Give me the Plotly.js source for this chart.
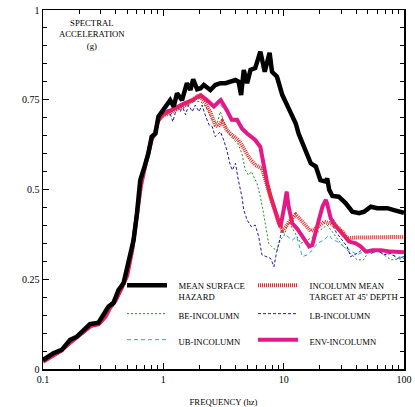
<!DOCTYPE html>
<html>
<head>
<meta charset="utf-8">
<script src="https://cdn.plot.ly/plotly-3.0.1.min.js"></script>
<style>html,body{margin:0;padding:0;background:#fff;}#chart{width:415px;height:407px;}</style>
</head>
<body>
<div id="chart"></div>
<script>
// ---- data (frequency in Hz, spectral acceleration in g) ----
var meanFreq = [0.1,0.122,0.143,0.168,0.191,0.246,0.289,0.328,0.35,0.385,0.424,0.467,0.503,0.53,0.566,0.604,0.643,0.70,0.75,0.80,0.86,0.91,1.0,1.14,1.22,1.30,1.43,1.57,1.68,1.77,1.91,2.04,2.17,2.46,2.70,2.98,3.29,3.6,3.98,4.22,4.43,4.66,4.97,5.3,5.8,6.4,6.96,7.64,8.0,8.8,9.75,11.0,12.6,13.3,14.7,16.8,18.5,20.2,22.4,23.0,23.9,25.4,28.7,32.7,37.2,42.4,46.6,53,60,72.6,84,100];
var meanAcc  = [0.025,0.044,0.053,0.081,0.090,0.125,0.129,0.156,0.174,0.184,0.22,0.239,0.285,0.313,0.359,0.434,0.526,0.565,0.60,0.647,0.656,0.703,0.721,0.749,0.731,0.768,0.749,0.796,0.777,0.807,0.779,0.782,0.791,0.777,0.791,0.796,0.796,0.800,0.805,0.800,0.763,0.833,0.796,0.833,0.838,0.884,0.828,0.881,0.828,0.814,0.763,0.726,0.684,0.656,0.619,0.573,0.564,0.526,0.522,0.531,0.499,0.482,0.480,0.462,0.438,0.434,0.438,0.452,0.448,0.448,0.442,0.435];

var targetFreq = [0.1,0.12,0.14,0.17,0.2,0.25,0.29,0.33,0.36,0.4,0.45,0.5,0.55,0.6,0.65,0.7,0.75,0.8,0.85,0.9,1.0,1.14,1.3,1.47,1.68,1.98,2.25,2.46,2.70,2.85,3.08,3.37,3.7,4.2,4.66,5.1,5.8,6.6,7.3,7.8,8.3,9.1,9.8,10.4,11.4,12.6,13.9,15.7,16.8,17.8,19.1,21.7,24.6,27.9,31.6,33.7,40,60,100];
var targetAcc  = [0.022,0.038,0.05,0.075,0.095,0.12,0.125,0.145,0.17,0.19,0.225,0.26,0.33,0.42,0.51,0.56,0.60,0.64,0.655,0.69,0.708,0.713,0.725,0.731,0.745,0.763,0.740,0.715,0.680,0.675,0.690,0.666,0.652,0.638,0.615,0.591,0.568,0.559,0.51,0.48,0.443,0.406,0.387,0.396,0.415,0.43,0.415,0.396,0.384,0.388,0.396,0.41,0.405,0.396,0.378,0.364,0.366,0.367,0.368];

var beFreq = [0.1,0.12,0.14,0.17,0.2,0.25,0.29,0.33,0.36,0.4,0.45,0.5,0.55,0.6,0.65,0.7,0.75,0.8,0.85,0.9,1.0,1.2,1.4,1.7,2.04,2.25,2.54,2.8,2.98,3.29,3.6,3.85,4.2,4.5,4.8,5.1,5.4,6.0,6.4,6.8,7.5,8.3,8.8,9.4,10.0,11.0,12.6,13.9,15.7,17.8,20.2,23,25.4,29.8,36,40.8,46,51,60,68,78,100];
var beAcc  = [0.02,0.036,0.05,0.075,0.095,0.12,0.125,0.145,0.17,0.19,0.225,0.26,0.33,0.42,0.51,0.56,0.60,0.64,0.655,0.69,0.708,0.72,0.73,0.745,0.745,0.731,0.694,0.684,0.717,0.675,0.650,0.638,0.625,0.600,0.554,0.540,0.550,0.517,0.480,0.434,0.350,0.335,0.331,0.36,0.369,0.41,0.373,0.350,0.359,0.369,0.387,0.401,0.382,0.350,0.322,0.304,0.304,0.327,0.331,0.318,0.304,0.308];

var lbFreq = [0.1,0.12,0.14,0.17,0.2,0.25,0.29,0.33,0.36,0.4,0.45,0.5,0.55,0.6,0.65,0.7,0.75,0.8,0.85,0.9,1.0,1.1,1.2,1.3,1.39,1.43,1.53,1.62,1.74,1.84,1.98,2.1,2.25,2.4,2.55,2.7,2.88,2.98,3.17,3.37,3.6,3.75,3.98,4.2,4.5,4.66,4.97,5.4,5.8,6.2,6.6,7.3,7.8,8.3,8.7,9.4,10.0,10.6,11.0,11.8,13.0,14.3,15.7,16.3,17.8,19.6,21.0,22.4,24.6,27.4,29.8,33.7,36,40.8,46.6,53,60,68,78,88,100];
var lbAcc  = [0.02,0.036,0.05,0.075,0.095,0.12,0.125,0.145,0.17,0.19,0.225,0.26,0.33,0.42,0.51,0.56,0.60,0.64,0.655,0.69,0.708,0.726,0.689,0.731,0.717,0.735,0.708,0.735,0.717,0.735,0.717,0.735,0.703,0.680,0.675,0.647,0.656,0.661,0.638,0.610,0.568,0.554,0.573,0.526,0.480,0.443,0.415,0.396,0.401,0.369,0.318,0.313,0.308,0.285,0.322,0.369,0.440,0.494,0.452,0.406,0.39,0.369,0.35,0.341,0.359,0.415,0.452,0.471,0.41,0.38,0.364,0.341,0.313,0.322,0.336,0.322,0.331,0.318,0.322,0.308,0.313];

var ubFreq = [0.1,0.12,0.14,0.17,0.2,0.25,0.29,0.33,0.36,0.4,0.45,0.5,0.55,0.6,0.65,0.7,0.75,0.8,0.85,0.9,1.0,1.3,1.7,2.04,2.3,2.63,2.9,3.37,3.7,4.1,4.5,5.0,5.8,6.4,6.8,7.3,8.3,9.1,9.6,10.2,10.7,11.8,12.8,14.3,15.7,17.3,19.1,21.5,23.9,25.5,27.9,31.6,36,40.8,46.6,53,60,72,88,100];
var ubAcc  = [0.02,0.036,0.05,0.075,0.095,0.12,0.125,0.145,0.17,0.19,0.225,0.26,0.33,0.42,0.51,0.56,0.60,0.64,0.655,0.69,0.708,0.725,0.74,0.755,0.745,0.728,0.74,0.715,0.69,0.69,0.665,0.65,0.633,0.615,0.56,0.512,0.445,0.41,0.39,0.375,0.369,0.359,0.369,0.313,0.318,0.331,0.35,0.359,0.373,0.36,0.355,0.341,0.33,0.318,0.327,0.322,0.327,0.322,0.313,0.31];

var envFreq = [0.1,0.12,0.14,0.17,0.2,0.25,0.29,0.33,0.36,0.4,0.45,0.5,0.55,0.6,0.65,0.7,0.75,0.8,0.85,0.9,1.0,1.14,1.3,1.5,1.74,2.04,2.3,2.63,2.9,3.0,3.37,3.7,4.1,4.5,4.97,5.3,5.8,6.4,6.8,7.3,7.8,8.3,9.1,9.4,10.0,10.6,11.0,11.8,13.0,14.3,15.7,16.3,17.3,17.8,19.6,21.0,22.4,23.0,24.6,27.4,30.7,35,39.8,43.8,48.2,54.8,64.6,78,100];
var envAcc  = [0.02,0.036,0.05,0.075,0.095,0.12,0.125,0.145,0.17,0.19,0.225,0.26,0.33,0.42,0.51,0.56,0.60,0.64,0.655,0.69,0.71,0.72,0.73,0.74,0.749,0.763,0.749,0.731,0.745,0.749,0.721,0.694,0.694,0.670,0.656,0.647,0.638,0.619,0.564,0.517,0.48,0.452,0.415,0.396,0.443,0.494,0.452,0.406,0.39,0.369,0.35,0.341,0.345,0.359,0.415,0.452,0.471,0.46,0.420,0.396,0.378,0.355,0.35,0.341,0.327,0.331,0.331,0.327,0.325];

var seriesNames = ['MEAN SURFACE<br>HAZARD','INCOLUMN MEAN<br>TARGET AT 45\' DEPTH','BE-INCOLUMN','LB-INCOLUMN','UB-INCOLUMN','ENV-INCOLUMN'];
var xTickVals = [0.1,1,10,100];
var xTickText = ['0.1','1','10','100'];
var yTickVals = [0,0.25,0.5,0.75,1];
var yTickText = ['0','0.25','0.5','0.75','1'];

var FONT = 'Liberation Serif, Times New Roman, serif';
var PAD = '\u00a0\u00a0\u00a0';
function padName(s) { return s.split('<br>').map(function(p){ return PAD + p; }).join('<br>'); }

function tr(x, y, name, color, width, dash, legend) {
  return {x: x, y: y, name: padName(name), type: 'scatter', mode: 'lines',
    line: {color: color, width: width, dash: dash}, legend: legend};
}
// draw order: thin lines first, then envelope, target, mean
var traces = [
  tr(beFreq, beAcc, seriesNames[2], '#1e8c1e', 1, '2px,2px', 'legend3'),
  tr(ubFreq, ubAcc, seriesNames[4], '#2aa6d6', 1, '4px,3px', 'legend5'),
  tr(lbFreq, lbAcc, seriesNames[3], '#1a1aa8', 1, '3px,2px', 'legend4'),
  tr(envFreq, envAcc, seriesNames[5], '#e5188a', 4, 'solid', 'legend6'),
  tr(targetFreq, targetAcc, seriesNames[1], '#ee2a2a', 4, '1px,1px', 'legend2'),
  tr(meanFreq, meanAcc, seriesNames[0], '#000000', 4.5, 'solid', 'legend')
];

function lg(x, y) {
  return {x: x, y: y, xanchor: 'left', yanchor: 'middle', orientation: 'v',
    bgcolor: 'rgba(0,0,0,0)', borderwidth: 0, itemwidth: 40, valign: 'top',
    font: {family: FONT, size: 8.7, color: '#000'}, itemclick: false};
}
var px2x = function(p){ return (p - 43) / 361; };
var px2y = function(p){ return (369 - p) / 359; };

var layout = {
  width: 415, height: 407,
  margin: {l: 43, r: 11, t: 10, b: 38},
  paper_bgcolor: '#fff', plot_bgcolor: '#fff',
  showlegend: true,
  font: {family: FONT, color: '#000'},
  xaxis: {
    type: 'log', range: [-1, 2],
    tickvals: xTickVals, ticktext: xTickText,
    ticks: 'inside', ticklen: 6, tickwidth: 1, tickcolor: '#000',
    showline: true, linecolor: '#000', linewidth: 1.5, mirror: 'ticks',
    showgrid: false, zeroline: false,
    tickfont: {family: FONT, size: 10},
    minor: {dtick: 'D1', ticks: 'inside', ticklen: 4, tickcolor: '#000', showgrid: false},
    title: {text: 'FREQUENCY (hz)', font: {family: FONT, size: 8.7}, standoff: 16}
  },
  yaxis: {
    range: [0, 1],
    tickvals: yTickVals, ticktext: yTickText,
    ticks: 'inside', ticklen: 6, tickwidth: 1, tickcolor: '#000',
    showline: true, linecolor: '#000', linewidth: 1.5, mirror: 'ticks',
    showgrid: false, zeroline: false,
    tickfont: {family: FONT, size: 10},
    minor: {dtick: 0.05, ticks: 'inside', ticklen: 4, tickcolor: '#000', showgrid: false}
  },
  annotations: [{
    xref: 'paper', yref: 'paper', x: px2x(92), y: px2y(35),
    xanchor: 'center', yanchor: 'middle',
    text: 'SPECTRAL<br>ACCELERATION<br>(g)', showarrow: false,
    font: {family: FONT, size: 8.7, color: '#000'}, align: 'center'
  }],
  legend:  lg(px2x(122), px2y(291)),
  legend2: lg(px2x(253), px2y(291)),
  legend3: lg(px2x(122), px2y(316)),
  legend4: lg(px2x(253), px2y(316)),
  legend5: lg(px2x(122), px2y(342)),
  legend6: lg(px2x(253), px2y(342))
};

Plotly.newPlot('chart', traces, layout, {staticPlot: true, displayModeBar: false});
</script>
</body>
</html>
